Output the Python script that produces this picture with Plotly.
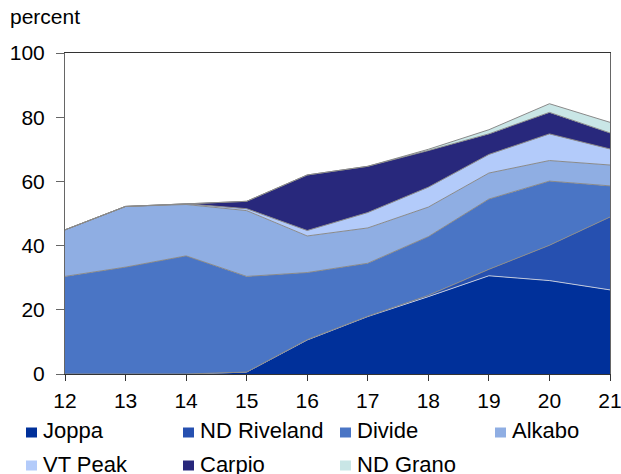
import plotly.graph_objects as go

years = [12, 13, 14, 15, 16, 17, 18, 19, 20, 21]
series_names = ["Joppa", "ND Riveland", "Divide", "Alkabo", "VT Peak", "Carpio", "ND Grano"]
joppa = [0, 0, 0, 0.6, 10.6, 17.9, 24.1, 30.6, 29.1, 26.2]
nd_riveland = [0, 0, 0, 0, 0.1, 0.1, 0.4, 2.0, 11.0, 22.7]
divide = [30.4, 33.3, 36.8, 29.8, 20.9, 16.5, 18.3, 21.9, 20.0, 9.7]
alkabo = [14.5, 18.9, 16.0, 20.5, 11.4, 11.0, 9.2, 8.1, 6.4, 6.5]
vt_peak = [0, 0, 0.2, 0.6, 1.7, 4.8, 6.2, 5.8, 8.3, 5.0]
carpio = [0, 0, 0, 2.3, 17.3, 14.4, 11.4, 6.4, 6.7, 5.0]
nd_grano = [0, 0, 0, 0, 0, 0, 0.4, 1.3, 2.7, 3.3]
y_ticks = [0, 20, 40, 60, 80, 100]

series_values = [joppa, nd_riveland, divide, alkabo, vt_peak, carpio, nd_grano]
colors = ["#00309A", "#2650B0", "#4A75C5", "#8FAEE3", "#B3CBFA", "#28287C", "#C9E6E6"]
line_colors = ["#c0c8dc", "#8a8a8a", "#8a8a8a", "#8a8a8a", "#8a8a8a", "#8a8a8a", "#8a8a8a"]

# body margin removed via post_script so the figure fills the 621x474 window
W, H = 621, 474
PL, PR, PT, PB = 65, 610, 53, 374  # plot area in page pixels
ML, MR, MT, MB = PL, W - PR, PT, H - PB

fig = go.Figure()
for name, vals, col, lc in zip(series_names, series_values, colors, line_colors):
    fig.add_trace(go.Scatter(
        x=years, y=vals, name=name, mode="lines", stackgroup="one",
        fillcolor=col, line=dict(color=lc, width=1),
        showlegend=False, hoverinfo="skip"))

FONT = "Liberation Sans, Arial, sans-serif"

pw = PR - PL
ph = PB - PT
def px_to_paper_x(px):
    return (px - PL) / pw
def px_to_paper_y(py):
    return (PB - py) / ph

col_x = [26, 183, 340, 495]
row_y = [432.5, 465.5]
shapes = []
annotations = []
for i, (name, col) in enumerate(zip(series_names, colors)):
    r, c = divmod(i, 4)
    x0 = col_x[c]
    yc = row_y[r]
    shapes.append(dict(type="rect", xref="paper", yref="paper",
                       x0=px_to_paper_x(x0), x1=px_to_paper_x(x0 + 11),
                       y0=px_to_paper_y(yc + 5), y1=px_to_paper_y(yc - 5),
                       fillcolor=col, line=dict(width=0), layer="above"))
    annotations.append(dict(text=name, xref="paper", yref="paper",
                            x=px_to_paper_x(x0 + 15), y=px_to_paper_y(yc - 1.5),
                            xanchor="left", yanchor="middle", showarrow=False,
                            font=dict(family=FONT, size=22, color="#000000")))

annotations.append(dict(text="percent", xref="paper", yref="paper",
                        x=px_to_paper_x(8), y=px_to_paper_y(17),
                        xanchor="left", yanchor="middle", showarrow=False,
                        font=dict(family=FONT, size=21, color="#000000")))

fig.update_layout(
    width=W, height=H,
    margin=dict(l=ML, r=MR, t=MT, b=MB, autoexpand=False),
    paper_bgcolor="white", plot_bgcolor="white",
    font=dict(family=FONT, size=21, color="#000000"),
    shapes=shapes, annotations=annotations,
    showlegend=False,
)
fig.update_xaxes(range=[12, 21], tickmode="array", tickvals=years,
                 ticktext=[str(y) for y in years], automargin=False,
                 ticklabeloverflow="allow",
                 showgrid=False, zeroline=False, showline=True,
                 linecolor="#333333", linewidth=1, mirror=True,
                 ticks="outside", ticklen=6, tickcolor="#333333",
                 ticklabelstandoff=2,
                 tickfont=dict(family=FONT, size=21))
fig.update_yaxes(range=[0, 100], tickmode="array", tickvals=y_ticks,
                 automargin=False, ticklabeloverflow="allow",
                 showgrid=False, zeroline=False, showline=True,
                 linecolor="#666666", linewidth=1, mirror=True,
                 ticks="outside", ticklen=8, tickcolor="#666666",
                 ticklabelstandoff=7,
                 tickfont=dict(family=FONT, size=21))

fig.write_html(
    "out.html",
    config={"displayModeBar": False, "staticPlot": True},
    post_script="document.body.style.margin='0';document.body.style.overflow='hidden';",
)
